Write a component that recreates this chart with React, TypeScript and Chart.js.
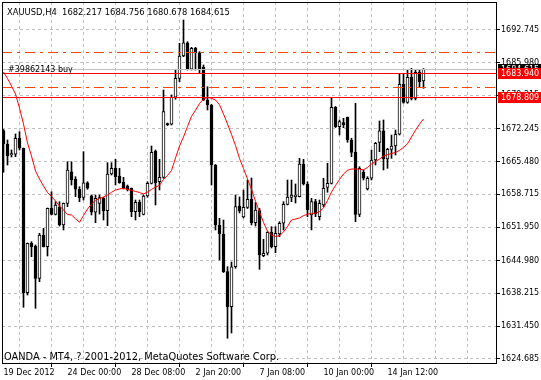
import React, { useEffect, useRef } from 'react';
import { Chart, registerables } from 'chart.js';

Chart.register(...registerables);

const SYMBOL = 'XAUUSD';
const TIMEFRAME = 'H4';

const OPEN = [
  1671.93, 1669.14, 1666.86, 1667.01, 1670.32, 1668.25, 1638.35, 1648.58, 1648.02, 1641.33,
  1650.30, 1647.87, 1655.82, 1654.58, 1656.03, 1652.37, 1656.86, 1663.40, 1661.83, 1659.76,
  1658.10, 1661.12, 1658.43, 1655.00, 1656.86, 1657.89, 1655.33, 1662.93, 1664.11, 1662.51,
  1661.21, 1660.44, 1659.97, 1655.12, 1657.07, 1654.58, 1658.37, 1661.00, 1667.69, 1661.33,
  1662.24, 1673.28, 1673.22, 1678.81, 1682.74, 1687.36, 1690.11, 1684.61, 1688.95, 1688.04,
  1685.02, 1678.25, 1677.21, 1664.79, 1652.37, 1650.50, 1642.70, 1635.45, 1643.73, 1656.30,
  1654.02, 1655.99, 1657.69, 1652.84, 1655.33, 1646.01, 1646.51, 1650.86, 1647.87, 1650.50,
  1652.72, 1656.65, 1658.10, 1658.21, 1658.23, 1665.00, 1660.86, 1654.44, 1657.19, 1654.09,
  1656.51, 1660.17, 1661.00, 1676.74, 1672.72, 1673.55, 1674.67, 1669.97, 1667.42, 1654.58,
  1663.28, 1659.82, 1662.04, 1665.83, 1669.49, 1671.89, 1666.03, 1668.04, 1668.72, 1671.15,
  1681.50, 1677.77, 1682.95, 1678.60, 1683.99, 1682.217,
];

const HIGH = [
  1672.14, 1669.97, 1667.90, 1671.21, 1671.69, 1668.31, 1648.64, 1648.91, 1648.23, 1650.65,
  1651.69, 1655.89, 1659.26, 1657.19, 1657.19, 1656.92, 1665.47, 1665.47, 1662.37, 1660.30,
  1667.55, 1661.33, 1658.58, 1658.58, 1658.58, 1658.10, 1665.27, 1665.27, 1665.97, 1664.11,
  1662.24, 1660.65, 1660.03, 1657.54, 1657.54, 1658.58, 1661.33, 1668.72, 1667.90, 1665.97,
  1680.32, 1673.49, 1679.29, 1684.61, 1689.99, 1694.81, 1690.32, 1689.16, 1689.16, 1688.25,
  1685.50, 1681.00, 1677.36, 1664.89, 1653.75, 1653.40, 1643.73, 1644.71, 1658.58, 1658.17,
  1659.61, 1661.68, 1662.10, 1657.03, 1655.82, 1649.41, 1650.98, 1652.02, 1652.02, 1653.05,
  1657.19, 1661.68, 1661.68, 1660.86, 1666.18, 1665.97, 1661.33, 1657.89, 1657.69, 1657.54,
  1662.04, 1665.14, 1678.73, 1676.90, 1674.11, 1674.46, 1674.73, 1670.32, 1677.57, 1664.44,
  1663.76, 1662.37, 1667.90, 1669.49, 1673.90, 1674.11, 1668.25, 1671.00, 1672.04, 1683.57,
  1683.78, 1684.46, 1684.81, 1684.46, 1684.46, 1684.756,
];

const LOW = [
  1663.28, 1664.79, 1666.45, 1666.51, 1667.90, 1635.33, 1637.87, 1645.80, 1635.12, 1640.63,
  1647.81, 1645.95, 1654.44, 1654.44, 1652.16, 1651.33, 1656.16, 1660.65, 1658.23, 1657.19,
  1657.54, 1659.76, 1654.44, 1652.84, 1654.64, 1653.40, 1652.22, 1662.72, 1660.65, 1661.00,
  1659.82, 1659.41, 1654.09, 1653.40, 1654.09, 1654.44, 1658.10, 1660.86, 1656.51, 1659.61,
  1662.04, 1672.97, 1673.07, 1678.39, 1682.04, 1687.21, 1684.46, 1684.46, 1684.46, 1683.84,
  1678.10, 1676.18, 1660.65, 1651.33, 1645.12, 1642.53, 1628.91, 1630.00, 1643.40, 1654.85,
  1653.82, 1655.78, 1652.37, 1652.16, 1643.19, 1645.80, 1646.15, 1647.61, 1646.63, 1649.94,
  1651.33, 1656.51, 1657.19, 1656.92, 1658.17, 1660.65, 1654.09, 1651.33, 1654.09, 1653.40,
  1656.16, 1659.14, 1660.86, 1672.55, 1671.00, 1672.51, 1669.49, 1666.51, 1653.05, 1654.09,
  1661.68, 1659.61, 1661.68, 1664.79, 1667.55, 1663.76, 1664.11, 1666.18, 1666.86, 1671.00,
  1677.57, 1677.57, 1678.25, 1678.25, 1681.00, 1680.678,
];

const CLOSE = [
  1669.14, 1666.72, 1667.17, 1670.32, 1668.25, 1638.35, 1648.58, 1647.87, 1641.33, 1650.30,
  1647.87, 1655.82, 1654.58, 1656.51, 1652.37, 1656.86, 1663.76, 1661.68, 1659.76, 1658.02,
  1661.12, 1659.97, 1655.00, 1657.89, 1658.02, 1655.33, 1662.93, 1664.11, 1662.37, 1661.12,
  1659.97, 1659.72, 1655.12, 1657.07, 1655.12, 1658.37, 1661.00, 1667.42, 1661.12, 1662.24,
  1675.83, 1673.16, 1678.81, 1682.74, 1687.36, 1690.11, 1684.61, 1688.95, 1688.04, 1684.61,
  1678.25, 1677.21, 1664.79, 1652.37, 1650.50, 1642.70, 1635.45, 1643.73, 1656.16, 1655.27,
  1656.03, 1657.69, 1652.84, 1655.47, 1646.15, 1646.51, 1650.86, 1647.87, 1650.65, 1652.72,
  1656.65, 1658.17, 1658.58, 1658.58, 1665.00, 1660.86, 1655.47, 1657.19, 1654.64, 1656.86,
  1659.97, 1661.00, 1676.74, 1672.72, 1673.76, 1673.07, 1669.97, 1667.42, 1654.58, 1664.11,
  1662.04, 1662.04, 1665.83, 1669.28, 1671.89, 1666.03, 1668.04, 1668.72, 1671.15, 1681.50,
  1677.77, 1682.95, 1678.60, 1683.99, 1682.04, 1684.615,
];

const MA = [
  1684.05, 1682.70, 1681.15, 1679.49, 1676.59, 1673.28, 1669.35, 1666.65, 1663.55, 1661.89,
  1660.44, 1659.10, 1658.27, 1657.34, 1656.30, 1655.47, 1654.54, 1654.44, 1653.67, 1652.93,
  1654.33, 1655.68, 1656.65, 1657.54, 1657.85, 1658.17, 1658.58, 1659.14, 1659.61, 1659.82,
  1659.97, 1659.74, 1659.53, 1659.32, 1659.10, 1658.79, 1659.20, 1659.72, 1660.24, 1660.59,
  1661.79, 1662.62, 1663.65, 1666.24, 1668.72, 1670.59, 1672.76, 1674.87, 1676.12, 1677.52,
  1678.44, 1678.79, 1678.60, 1678.25, 1677.26, 1675.35, 1673.28, 1671.11, 1668.83, 1666.14,
  1664.07, 1661.89, 1659.76, 1657.27, 1655.06, 1652.89, 1651.08, 1650.28, 1649.99, 1650.17,
  1650.92, 1652.06, 1653.40, 1653.61, 1653.82, 1654.31, 1654.58, 1654.79, 1654.79, 1655.16,
  1655.89, 1657.44, 1659.20, 1660.55, 1661.79, 1662.93, 1663.69, 1663.96, 1663.96, 1663.92,
  1663.80, 1664.27, 1665.00, 1665.52, 1666.01, 1666.65, 1666.96, 1667.15, 1667.40, 1667.81,
  1668.43, 1669.18, 1670.59, 1671.99, 1673.24, 1674.32,
];

const X_LABEL_BARS = [0, 16, 32, 48, 64, 80, 96];
const X_LABELS = ['19 Dec 2012', '24 Dec 00:00', '28 Dec 08:00', '2 Jan 20:00', '7 Jan 08:00', '10 Jan 00:00', '14 Jan 12:00'];
const X_GRID_BARS = [0, 8, 16, 24, 32, 40, 48, 56, 64, 72, 80, 88, 96, 104, 112, 120];

const Y_TICKS = ['1624.685', '1631.450', '1638.215', '1644.980', '1651.950', '1658.715', '1665.480', '1672.245', '1679.215', '1685.980', '1692.745'];

const TAKE_PROFIT = 1688.13;
const STOP_LOSS = 1680.88;
const ORDER_PRICE = 1683.94;
const ORDER_LABEL = '#39862143 buy';
const HLINE_PRICE = 1678.809;
const COPYRIGHT = 'OANDA - MT4, ? 2001-2012, MetaQuotes Software Corp.';

const FONT = "'DejaVu Sans'";

export default function App() {
  const ref = useRef<HTMLCanvasElement>(null);

  useEffect(() => {
    const canvas = ref.current;
    if (!canvas) return;
    const n = CLOSE.length;
    const idx = CLOSE.map((_, i) => i);
    const last = n - 1;
    const title = `${SYMBOL},${TIMEFRAME}  ${OPEN[last].toFixed(3)} ${HIGH[last].toFixed(3)} ${LOW[last].toFixed(3)} ${CLOSE[last].toFixed(3)}`;

    const overlay = {
      id: 'mt4overlay',
      afterDraw(chart: any) {
        const { ctx, chartArea: a } = chart;
        const ys = chart.scales.y;
        const py = (v: number) => Math.round(ys.getPixelForValue(v)) + 0.5;
        ctx.save();
        ctx.beginPath();
        ctx.rect(a.left, a.top, a.right - a.left, a.bottom - a.top);
        ctx.clip();
        const hline = (v: number, color: string, dash: number[]) => {
          ctx.beginPath();
          ctx.setLineDash(dash);
          ctx.strokeStyle = color;
          ctx.lineWidth = 1;
          const y = py(v);
          ctx.moveTo(a.left, y);
          ctx.lineTo(a.right, y);
          ctx.stroke();
        };
        hline(TAKE_PROFIT, '#ff4500', [10, 5, 3, 5]);
        hline(STOP_LOSS, '#ff4500', [10, 5, 3, 5]);
        hline(CLOSE[last], '#c0c0c0', []);
        hline(ORDER_PRICE, '#ff0000', []);
        hline(HLINE_PRICE, '#ff0000', []);
        ctx.setLineDash([]);
        ctx.fillStyle = '#000';
        ctx.textAlign = 'left';
        ctx.textBaseline = 'alphabetic';
        ctx.font = `8px ${FONT}`;
        ctx.fillText(ORDER_LABEL, 8, py(ORDER_PRICE) - 2);
        ctx.font = `8.4px ${FONT}`;
        ctx.fillText(title, 7, 15);
        ctx.font = `9.8px ${FONT}`;
        ctx.fillText(COPYRIGHT, 4, 360);
        ctx.restore();

        ctx.save();
        ctx.strokeStyle = '#000';
        ctx.lineWidth = 1;
        ctx.setLineDash([]);
        ctx.strokeRect(a.left + 0.5, a.top + 0.5, a.right - a.left, a.bottom - a.top);
        const box = (v: number, bg: string) => {
          const y = Math.round(ys.getPixelForValue(v));
          ctx.fillStyle = bg;
          ctx.fillRect(a.right + 2, y - 5, chart.width - a.right - 2, 11);
          ctx.fillStyle = '#fff';
          ctx.font = `8px ${FONT}`;
          ctx.textAlign = 'left';
          ctx.textBaseline = 'middle';
          ctx.fillText(v.toFixed(3), a.right + 5, y + 0.5);
        };
        box(CLOSE[last], '#000000');
        box(ORDER_PRICE, '#ff0000');
        box(HLINE_PRICE, '#ff0000');
        ctx.restore();
      },
    };

    const labelFor = (v: number) => {
      const k = X_LABEL_BARS.indexOf(Math.round(v));
      return k >= 0 ? X_LABELS[k] : '';
    };

    const chart = new Chart(canvas, {
      type: 'bar',
      data: {
        datasets: [
          {
            type: 'line',
            label: 'MA',
            data: idx.map((i) => ({ x: i, y: MA[i] })),
            borderColor: '#ff0000',
            borderWidth: 1,
            pointRadius: 0,
            tension: 0,
            fill: false,
            order: 0,
          } as any,
          {
            type: 'bar',
            label: 'body',
            data: idx.map((i) => ({ x: i, y: [OPEN[i], CLOSE[i]] })),
            backgroundColor: idx.map((i) => (CLOSE[i] >= OPEN[i] ? '#ffffff' : '#000000')),
            borderColor: '#000000',
            borderWidth: 1,
            borderSkipped: false,
            barThickness: 3,
            minBarLength: 1,
            grouped: false,
            order: 1,
          } as any,
          {
            type: 'bar',
            label: 'wick',
            data: idx.map((i) => ({ x: i, y: [LOW[i], HIGH[i]] })),
            backgroundColor: '#000000',
            borderWidth: 0,
            barThickness: 1,
            grouped: false,
            order: 2,
          } as any,
        ],
      },
      options: {
        responsive: false,
        animation: false,
        devicePixelRatio: 1,
        events: [],
        layout: { padding: { left: 2, top: 2, right: 0, bottom: 0 } },
        plugins: { legend: { display: false }, tooltip: { enabled: false } },
        scales: {
          x: {
            type: 'linear',
            min: -0.375,
            max: 123.125,
            offset: false,
            afterFit: (s: any) => {
              s.height = 17;
              s.paddingLeft = 0;
              s.paddingRight = 0;
            },
            afterBuildTicks: (s: any) => {
              s.ticks = X_GRID_BARS.map((v) => ({ value: v }));
            },
            grid: {
              color: '#c0c0c0',
              lineWidth: 1,
              drawTicks: true,
              tickLength: 4,
              tickWidth: 1,
              tickBorderDash: [],
              tickColor: (c: any) => (c.tick && labelFor(c.tick.value) ? '#000000' : 'rgba(0,0,0,0)'),
            },
            border: { display: false, dash: [3, 3] },
            ticks: {
              autoSkip: false,
              maxRotation: 0,
              minRotation: 0,
              align: 'start',
              padding: 1.5,
              color: '#000000',
              font: { family: FONT, size: 8 },
              callback: (v: any) => labelFor(Number(v)),
            },
          } as any,
          y: {
            type: 'linear',
            position: 'right',
            min: 1623.792,
            max: 1698.541,
            afterFit: (s: any) => {
              s.width = 45;
              s.paddingTop = 0;
              s.paddingBottom = 0;
            },
            afterBuildTicks: (s: any) => {
              s.ticks = Y_TICKS.map((t) => ({ value: parseFloat(t) }));
            },
            grid: {
              color: '#c0c0c0',
              lineWidth: 1,
              tickLength: 4,
              tickWidth: 1,
              tickColor: '#000000',
              tickBorderDash: [],
            },
            border: { display: false, dash: [3, 3] },
            ticks: {
              padding: 1,
              color: '#000000',
              font: { family: FONT, size: 8 },
              callback: (v: any) => Number(v).toFixed(3),
            },
          } as any,
        },
      },
      plugins: [overlay],
    } as any);

    return () => chart.destroy();
  }, []);

  return (
    <div style={{ position: 'absolute', left: 0, top: 0, width: 541, height: 380, background: '#ffffff' }}>
      <canvas ref={ref} width={541} height={380} style={{ display: 'block', width: 541, height: 380 }} />
    </div>
  );
}
